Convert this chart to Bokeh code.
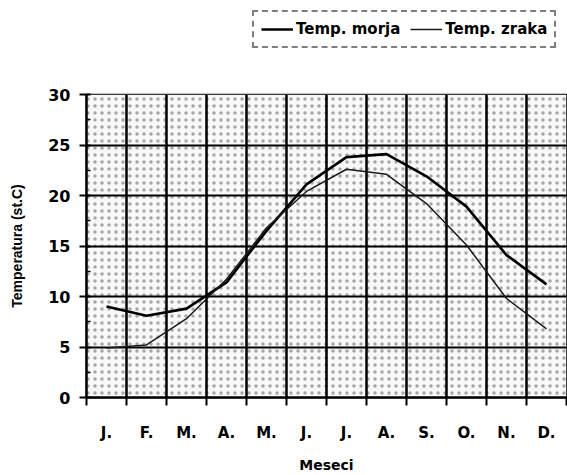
from bokeh.plotting import figure
from bokeh.layouts import column
from bokeh.models import (Range1d, FixedTicker, Legend, LegendItem,
                          BoxAnnotation, ColumnDataSource)
from bokeh.embed import file_html
from bokeh.resources import INLINE

# Monthly mean temperatures (°C)
months = ["J.", "F.", "M.", "A.", "M.", "J.", "J.", "A.", "S.", "O.", "N.", "D."]
temp_morja = [9.0, 8.1, 8.8, 11.4, 16.5, 21.1, 23.8, 24.1, 21.9, 18.9, 14.1, 11.2]
temp_zraka = [4.9, 5.2, 7.8, 11.7, 16.8, 20.4, 22.6, 22.1, 19.2, 15.1, 9.8, 6.8]
y_ticks = [0, 5, 10, 15, 20, 25, 30]

FONT = "DejaVu Sans"
FONT_NARROW = "Liberation Sans"
INK = "black"

MORJA_STYLE = dict(line_color="black", line_width=2.6)
ZRAKA_STYLE = dict(line_color="#1a1a1a", line_width=1.5)

# each month sits in the middle of a unit-wide slot
x_centers = [i + 0.5 for i in range(len(months))]
x_bounds = list(range(len(months) + 1))

src = ColumnDataSource(dict(x=x_centers, morja=temp_morja, zraka=temp_zraka))

# ---- main chart -------------------------------------------------------------
p = figure(width=567, height=415,
           x_range=Range1d(0, len(months)), y_range=Range1d(y_ticks[0], y_ticks[-1]),
           output_backend="svg", toolbar_location=None,
           min_border_left=86, min_border_right=1,
           min_border_top=34, min_border_bottom=78)

p.background_fill_color = "white"
p.border_fill_color = "white"
p.outline_line_color = "black"
p.outline_line_width = 1.5

# stippled plot area
p.add_layout(BoxAnnotation(fill_color="#f8f8f8", fill_alpha=1.0,
                           hatch_pattern="dot", hatch_color="#a6a6a6",
                           hatch_scale=7, hatch_weight=1.0,
                           line_color=None, level="image"))

# heavy grid: horizontal every 5 °C, vertical between months
p.xgrid.ticker = FixedTicker(ticks=x_bounds)
p.xgrid.grid_line_color = "black"
p.xgrid.grid_line_width = 2.5
p.ygrid.grid_line_color = "black"
p.ygrid.grid_line_width = 2

# y axis
ya = p.yaxis[0]
ya.ticker = FixedTicker(ticks=y_ticks, minor_ticks=[v + 2.5 for v in y_ticks[:-1]])
ya.axis_line_width = 2.5
ya.major_tick_line_width = 2
ya.major_tick_out = 7
ya.major_tick_in = 4
ya.minor_tick_line_width = 1.5
ya.minor_tick_in = 4
ya.minor_tick_out = 0
ya.major_label_text_font = FONT
ya.major_label_text_font_style = "bold"
ya.major_label_text_font_size = "16px"
ya.major_label_text_color = INK
ya.major_label_standoff = 9
ya.axis_label = "Temperatura (st.C)"
ya.axis_label_text_font = FONT_NARROW
ya.axis_label_text_font_style = "bold"
ya.axis_label_text_font_size = "14px"
ya.axis_label_text_color = INK
ya.axis_label_standoff = 20

# x axis: month names mid-slot, tick marks on the month boundaries
xa = p.xaxis[0]
xa.ticker = FixedTicker(ticks=x_centers, minor_ticks=x_bounds)
xa.major_label_overrides = {c: m for c, m in zip(x_centers, months)}
xa.axis_line_width = 2.5
xa.major_tick_line_color = None
xa.major_tick_out = 0
xa.major_tick_in = 0
xa.minor_tick_line_color = "black"
xa.minor_tick_line_width = 2
xa.minor_tick_out = 8
xa.minor_tick_in = 0
xa.major_label_text_font = FONT
xa.major_label_text_font_style = "bold"
xa.major_label_text_font_size = "15px"
xa.major_label_text_color = INK
xa.major_label_standoff = 18
xa.axis_label = "Meseci"
xa.axis_label_text_font = FONT
xa.axis_label_text_font_style = "bold"
xa.axis_label_text_font_size = "14px"
xa.axis_label_text_color = INK
xa.axis_label_standoff = 12

p.line("x", "morja", source=src, **MORJA_STYLE)
p.line("x", "zraka", source=src, **ZRAKA_STYLE)

# ---- legend strip above the chart ------------------------------------------
# The strip's frame lines up with the chart's frame (left edge at x=86).
# Its y range lies below every temperature, so only the legend keys show.
top = figure(width=567, height=60, x_range=Range1d(0, len(months)), y_range=Range1d(-2, -1),
             x_axis_type=None, y_axis_type=None,
             output_backend="svg", toolbar_location=None,
             min_border_left=86, min_border_right=1, min_border_top=0, min_border_bottom=0)
top.outline_line_color = None
top.background_fill_color = "white"
top.border_fill_color = "white"

key_morja = top.line("x", "morja", source=src, **MORJA_STYLE)
key_zraka = top.line("x", "zraka", source=src, **ZRAKA_STYLE)

legend = Legend(items=[LegendItem(label="Temp. morja", renderers=[key_morja]),
                       LegendItem(label="Temp. zraka", renderers=[key_zraka])],
                orientation="horizontal", location=(166, 12))
legend.label_text_font = FONT
legend.label_text_font_style = "bold"
legend.label_text_font_size = "15px"
legend.label_text_color = INK
legend.glyph_width = 32
legend.label_standoff = 3
legend.spacing = 10
legend.padding = 7
legend.margin = 0
legend.border_line_color = "black"
legend.border_line_width = 2
legend.border_line_dash = "3 1"
legend.background_fill_color = "white"
legend.background_fill_alpha = 1.0
top.add_layout(legend, "center")

page = column(top, p, spacing=0)
open("out.html", "w").write(file_html(page, INLINE))
